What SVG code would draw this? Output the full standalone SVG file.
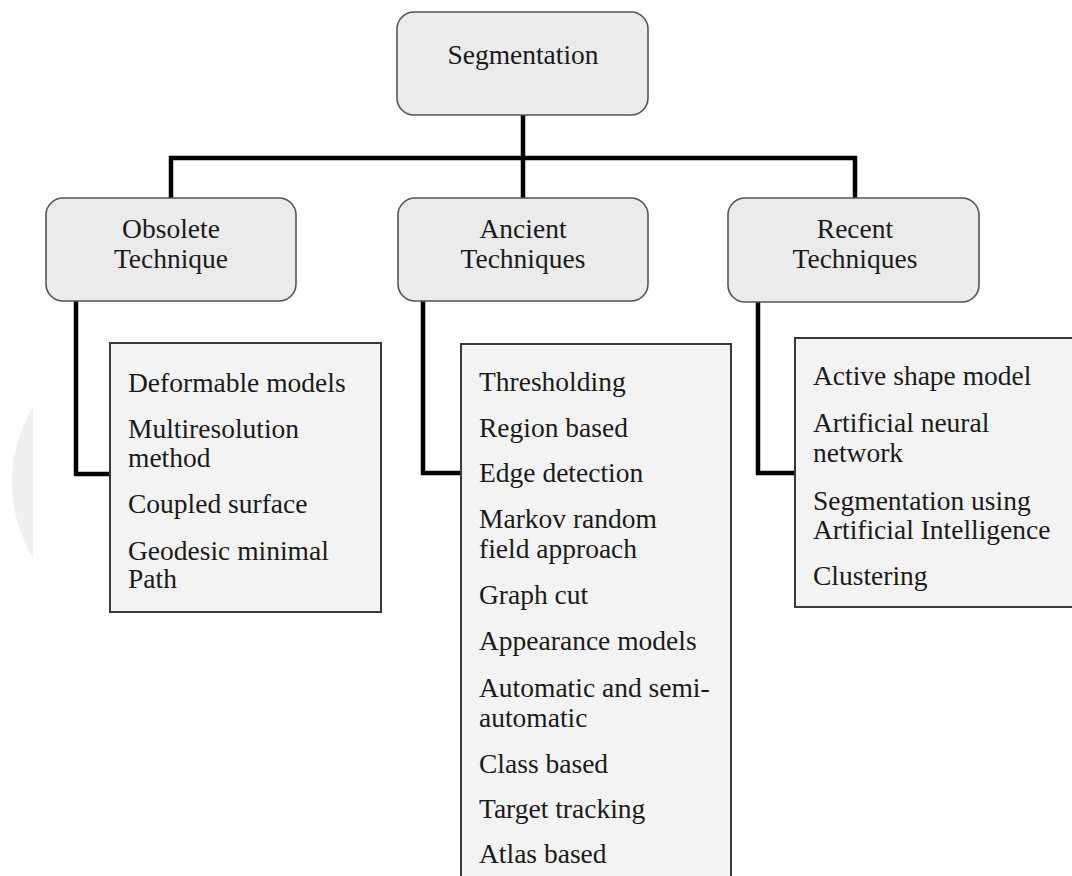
<svg xmlns="http://www.w3.org/2000/svg" width="1072" height="876" viewBox="0 0 1072 876">
  <style>
    .node rect { fill: #ebebeb; stroke: #555555; stroke-width: 1.6; }
    .list rect { fill: #f3f3f3; stroke: #3a3a3a; stroke-width: 2; }
    text { font-family: "Liberation Serif", "Times New Roman", serif; font-size: 27.5px; fill: #1a1a1a; }
    .node text { text-anchor: middle; }
    .links path { fill: none; stroke: #000000; stroke-width: 4.5; stroke-linejoin: miter; stroke-linecap: butt; }
  </style>
  <rect width="1072" height="876" fill="#ffffff"/>
  <!-- faint backdrop segment at the left edge -->
  <path d="M33,407 A146,146 0 0 0 33,558 Z" fill="#efefef"/>

  <g class="links">
    <path d="M523,115 V198"/>
    <path d="M171,198 V158 H855 V198"/>
    <path d="M76,301 V474 H110"/>
    <path d="M423,301 V473 H461"/>
    <path d="M758,302 V473 H795"/>
  </g>

  <g id="segmentation" class="node">
    <rect x="397" y="12" width="251" height="103" rx="17"/>
    <text x="523" y="64">Segmentation</text>
  </g>
  <g id="obsolete" class="node">
    <rect x="46" y="198" width="250" height="103" rx="17"/>
    <text x="171" y="238">Obsolete</text>
    <text x="171" y="268">Technique</text>
  </g>
  <g id="ancient" class="node">
    <rect x="398" y="198" width="250" height="103" rx="17"/>
    <text x="523" y="238">Ancient</text>
    <text x="523" y="268">Techniques</text>
  </g>
  <g id="recent" class="node">
    <rect x="728" y="198" width="251" height="104" rx="17"/>
    <text x="855" y="238">Recent</text>
    <text x="855" y="268">Techniques</text>
  </g>

  <g id="obsolete-list" class="list">
    <rect x="110" y="343" width="271" height="269"/>
    <text x="128" y="392">Deformable models</text>
    <text x="128" y="438">Multiresolution</text>
    <text x="128" y="467">method</text>
    <text x="128" y="513">Coupled surface</text>
    <text x="128" y="560">Geodesic minimal</text>
    <text x="128" y="588">Path</text>
  </g>
  <g id="ancient-list" class="list">
    <rect x="461" y="344" width="270" height="545"/>
    <text x="479" y="391">Thresholding</text>
    <text x="479" y="437">Region based</text>
    <text x="479" y="482">Edge detection</text>
    <text x="479" y="528">Markov random</text>
    <text x="479" y="558">field approach</text>
    <text x="479" y="604">Graph cut</text>
    <text x="479" y="650">Appearance models</text>
    <text x="479" y="697">Automatic and semi-</text>
    <text x="479" y="727">automatic</text>
    <text x="479" y="773">Class based</text>
    <text x="479" y="818">Target tracking</text>
    <text x="479" y="863">Atlas based</text>
  </g>
  <g id="recent-list" class="list">
    <rect x="795" y="338" width="290" height="269"/>
    <text x="813" y="385">Active shape model</text>
    <text x="813" y="432">Artificial neural</text>
    <text x="813" y="462">network</text>
    <text x="813" y="510">Segmentation using</text>
    <text x="813" y="539">Artificial Intelligence</text>
    <text x="813" y="585">Clustering</text>
  </g>
</svg>
